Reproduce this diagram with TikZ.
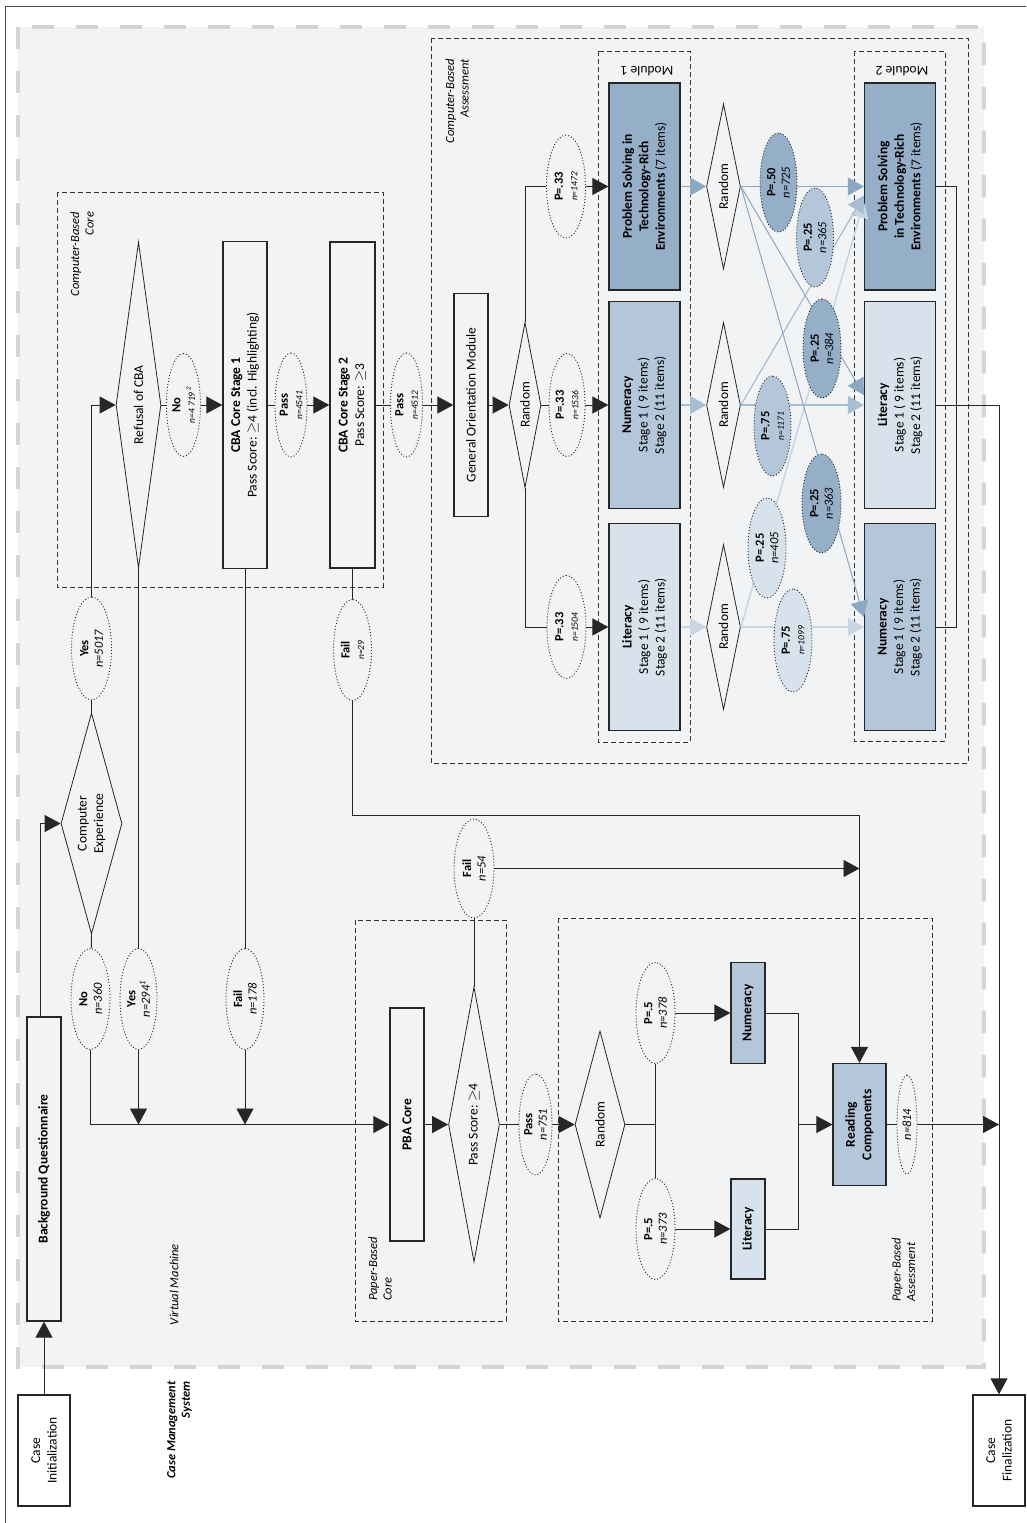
\documentclass[tikz,border=0pt]{standalone}
\usepackage{fontspec}
\setmainfont{Carlito}
\usetikzlibrary{arrows.meta,shapes.geometric}
\definecolor{psfill}{HTML}{95AFC8}
\definecolor{numfill}{HTML}{B4C7DA}
\definecolor{litfill}{HTML}{D7E2EC}
\definecolor{psline}{HTML}{8DA8C3}
\definecolor{numline}{HTML}{A7BDD2}
\definecolor{litline}{HTML}{C8D6E3}
\definecolor{vmgray}{HTML}{F2F3F5}
\definecolor{vmdash}{HTML}{D4D4D6}
\newcommand{\ptag}[2]{\textbf{#1}\\\textit{#2}}
\newcommand{\ptagsmall}[2]{\textbf{#1}\\{\fontsize{9.5}{11}\selectfont\itshape #2}}
\begin{document}
\begin{tikzpicture}[x=1pt,y=-1pt,
  font=\fontsize{13.5}{16.5}\selectfont,
  box/.style={draw=black!85,line width=1.3pt,rotate=90,align=center,inner sep=2pt},
  mod/.style={box,minimum width=207pt,minimum height=71pt},
  choice/.style={diamond,draw=black!85,line width=0.8pt,rotate=90,align=center,inner sep=0pt},
  tag/.style={ellipse,draw=black!85,line width=0.9pt,dash pattern=on 1pt off 2pt,rotate=90,align=center,
    inner sep=0pt,minimum width=101pt,minimum height=38pt,font=\fontsize{12.5}{14.5}\selectfont},
  midtag/.style={tag,minimum width=99pt,minimum height=37pt},
  flow/.style={draw=black!85,line width=0.9pt},
  go/.style={flow,-{Triangle[length=16pt,width=17pt]}},
  psgo/.style={draw=psline,line width=1pt,-{Triangle[length=16pt,width=18pt]}},
  numgo/.style={draw=numline,line width=1.2pt,-{Triangle[length=16pt,width=18pt]}},
  litgo/.style={draw=litline,line width=1.6pt,-{Triangle[length=16pt,width=18pt]}},
  region/.style={draw=black!80,line width=0.8pt,dash pattern=on 5pt off 3pt},
  vm/.style={fill=vmgray,draw=vmdash,line width=4pt,dash pattern=on 22pt off 22pt},
  caption/.style={rotate=90,font=\fontsize{12.5}{14.5}\selectfont\itshape}]
\useasboundingbox (0,0) rectangle (1026,1523);
\clip (0,0) rectangle (1026,1523);
\draw[black!70,line width=0.8pt] (5,6) rectangle (1040,1540);
\draw[vm] (18,27) rectangle (984,1367);
\draw[region] (57,192) rectangle (383,587);
\draw[region] (431,38) rectangle (968,763);
\draw[region] (598,51) rectangle (690,742);
\draw[region] (854,51) rectangle (945,741);
\draw[region] (355,920) rectangle (506,1321);
\draw[region] (558,918) rectangle (932,1321);
\node[caption,align=right] (cbcorelbl) at (82,254) {Computer-Based\\Core};
\node[caption,align=right] (cbalbl) at (457,101) {Computer-Based\\Assessment};
\node[caption,align=left] (pbcorelbl) at (380,1269) {Paper-Based\\Core};
\node[caption,align=left] (pbalbl) at (903.5,1270) {Paper-Based\\Assessment};
\node[caption] (vmlbl) at (174,1284.5) {Virtual Machine};
\node[caption,align=right,font=\fontsize{12.5}{14.5}\selectfont\bfseries\itshape] (cmslbl) at (179.5,1430) {Case Management\\System};
\node[rotate=180] (mod1lbl) at (647,71) {Module 1};
\node[rotate=180] (mod2lbl) at (902,71) {Module 2};
\node[box,minimum width=111pt,minimum height=52pt] (init) at (44,1450.5) {Case\\Initialization};
\node[box,minimum width=304pt,minimum height=34pt] (bq) at (44,1169) {\textbf{Background Questionnaire}};
\node[choice,minimum width=221pt,minimum height=61pt,shape aspect=3.6] (cexp) at (91.5,823.5) {Computer\\Experience};
\node[tag,minimum width=103pt,minimum height=40pt] (yes1) at (91.5,648.5) {\ptag{Yes}{n=5017}};
\node[choice,minimum width=326pt,minimum height=45pt,shape aspect=7.2] (refuse) at (138.5,405) {Refusal of CBA};
\node[tag,minimum width=103pt,minimum height=34pt] (no1) at (183.5,405) {\ptagsmall{No}{n=4 719\,\textsuperscript{2}}};
\node[box,minimum width=327pt,minimum height=44pt] (cba1) at (245,405) {\textbf{CBA Core Stage 1}\\Pass Score: $\geq$4 (incl. Highlighting)};
\node[tag,minimum width=104pt,minimum height=32pt] (pass1) at (291,405) {\ptagsmall{Pass}{n=4541}};
\node[box,minimum width=326pt,minimum height=45pt] (cba2) at (352.5,405) {\textbf{CBA Core Stage 2}\\Pass Score: $\geq$3};
\node[tag,minimum width=104pt,minimum height=31pt] (pass2) at (406.5,405) {\ptagsmall{Pass}{n=4512}};
\node[box,minimum width=223pt,minimum height=34pt] (gom) at (471,405) {General Orientation Module};
\node[choice,minimum width=165pt,minimum height=32pt,shape aspect=5.2] (rnd) at (525,405) {Random};
\node[tag,minimum width=103pt,minimum height=39pt] (p33a) at (566,186.5) {\ptagsmall{P=.33}{n=1472}};
\node[tag,minimum width=103pt,minimum height=36pt] (p33b) at (567,405) {\ptagsmall{P=.33}{n=1536}};
\node[tag,minimum width=103pt,minimum height=39pt] (p33c) at (566.5,627) {\ptagsmall{P=.33}{n=1504}};
\node[mod,fill=psfill] (ps1) at (644.5,186.5) {\textbf{Problem Solving in}\\\textbf{Technology-Rich}\\\textbf{Environments} (7 items)};
\node[mod,fill=numfill] (num1) at (644.5,405) {\textbf{Numeracy}\\Stage 1 ( 9 items)\\Stage 2 (11 items)};
\node[mod,fill=litfill] (lit1) at (644.5,627) {\textbf{Literacy}\\Stage 1 ( 9 items)\\Stage 2 (11 items)};
\foreach \name/\y in {rndA/186.5,rndB/405,rndC/627}
  \node[choice,minimum width=165pt,minimum height=34pt,shape aspect=4.9] (\name) at (723.5,\y) {Random};
\node[mod,fill=psfill] (ps2) at (900,186.5) {\textbf{Problem Solving}\\\textbf{in Technology-Rich}\\\textbf{Environments} (7 items)};
\node[mod,fill=litfill] (lit2) at (900,405) {\textbf{Literacy}\\Stage 1 ( 9 items)\\Stage 2 (11 items)};
\node[mod,fill=numfill] (num2) at (900,627) {\textbf{Numeracy}\\Stage 1 ( 9 items)\\Stage 2 (11 items)};
\node[tag,minimum height=39pt] (no2) at (90.5,999) {\ptag{No}{n=360}};
\node[tag,minimum height=37pt] (yes2) at (138.5,999) {\ptag{Yes}{n=294\textsuperscript{1}}};
\node[tag,minimum height=38pt] (fail1) at (245,999) {\ptag{Fail}{n=178}};
\node[tag,minimum height=38pt] (fail2) at (352.5,650) {\ptagsmall{Fail}{n=29}};
\node[tag,minimum width=99pt,minimum height=40pt] (fail3) at (474,868.5) {\ptag{Fail}{n=54}};
\node[box,minimum width=233pt,minimum height=34pt] (pba) at (407,1124.5) {\textbf{PBA Core}};
\node[choice,minimum width=275pt,minimum height=51pt,shape aspect=5.4] (pass) at (474,1124.5) {Pass Score: $\geq$4};
\node[tag,minimum height=33pt] (pass3) at (535.5,1124.5) {\ptag{Pass}{n=751}};
\node[choice,minimum width=187pt,minimum height=50pt,shape aspect=3.7] (rnd2) at (600,1124.5) {Random};
\node[tag,minimum height=39pt] (p378) at (655.5,1013) {\ptag{P=.5}{n=378}};
\node[tag,minimum height=39pt] (p373) at (655.5,1229) {\ptag{P=.5}{n=373}};
\node[box,fill=numfill,minimum width=101pt,minimum height=34pt] (nump) at (748,1013) {\textbf{Numeracy}};
\node[box,fill=litfill,minimum width=100pt,minimum height=34pt] (litp) at (748,1229) {\textbf{Literacy}};
\node[box,fill=numfill,minimum width=122pt,minimum height=53pt] (rc) at (859.5,1124.5) {\textbf{Reading}\\\textbf{Components}};
\node[tag,minimum width=99pt,minimum height=20pt] (n814) at (907,1124.5) {\itshape n=814};
\node[box,minimum width=111pt,minimum height=52pt] (fin) at (999,1450.5) {Case\\Finalization};
\coordinate (merge) at (798,1124.5);
\draw[go] (init) -- (bq);
\draw[go] ([xshift=-4pt]bq.east) |- (cexp.north);
\draw[flow] (cexp.east) -- (yes1);
\draw[go] (yes1) |- (refuse.north);
\draw[flow] (refuse.south) -- (no1);
\draw[go] (no1) -- (cba1);
\draw[flow] (cba1) -- (pass1);
\draw[go] (pass1) -- (cba2);
\draw[flow] (cba2) -- (pass2);
\draw[go] (pass2) -- (gom);
\draw[go] (gom) -- (rnd);
\draw[flow] (rnd.east) |- (p33a);
\draw[go] (p33a) -- (ps1);
\draw[flow] (rnd) -- (p33b);
\draw[go] (p33b) -- (num1);
\draw[flow] (rnd.west) |- (p33c);
\draw[go] (p33c) -- (lit1);
\draw[psgo] (ps1) -- (rndA);
\draw[numgo] (num1) -- (rndB);
\draw[litgo] (lit1) -- (rndC);
\draw[litgo] (rndC.south) -- ([yshift=-15pt]ps2.north);
\draw[litgo] (rndC.south) -- (num2.north);
\draw[numgo] (rndB.south) -- ([yshift=-9pt]ps2.north);
\draw[numgo] (rndB.south) -- (lit2.north);
\draw[psgo] (rndA.south) -- (ps2.north);
\draw[psgo] (rndA.south) -- ([yshift=10pt]lit2.north);
\draw[psgo] (rndA.south) -- ([yshift=10pt]num2.north);
\node[midtag,fill=psfill] (t725) at (778.5,182.5) {\ptag{P=.50}{n=725}};
\node[midtag,fill=numfill] (t365) at (815,237.5) {\ptag{P=.25}{n=365}};
\node[midtag,fill=psfill,minimum height=38pt] (t384) at (822,348.5) {\ptag{P=.25}{n=384}};
\node[midtag,fill=numfill,minimum width=100pt] (t1171) at (772.5,426) {\ptagsmall{P=.75}{n=1171}};
\node[midtag,fill=psfill,minimum height=39pt] (t363) at (821.5,503.5) {\ptag{P=.25}{n=363}};
\node[midtag,fill=litfill,minimum width=100pt,minimum height=38pt] (t405) at (767,548) {\ptag{P=.25}{n=405}};
\node[midtag,fill=litfill,minimum width=103pt,minimum height=38pt] (t1099) at (793,640.5) {\ptagsmall{P=.75}{n=1099}};
\draw[flow] (ps2.south) -- ++(20,0) |- (num2.south);
\draw[go] (lit2.south) -| (fin.east);
\draw[flow] (cexp.west) -- (no2);
\draw[go] (no2) |- (pba.north);
\draw[flow] (refuse.west) -- (yes2);
\draw[go] (yes2) -- (yes2 |- pba.north);
\draw[flow] (cba1.west) -- (fail1);
\draw[go] (fail1) -- (fail1 |- pba.north);
\draw[flow] (cba2.west) -- (fail2);
\draw[go] (fail2) -- ++(0,165) -| (rc.east);
\draw[go] (pba) -- (pass);
\draw[flow] (pass.east) -- (fail3);
\draw[go] (fail3) -- (fail3 -| rc.east);
\draw[flow] (pass) -- (pass3);
\draw[go] (pass3) -- (rnd2);
\draw[flow] (rnd2.south) -| (p378);
\draw[flow] (rnd2.south) -| (p373);
\draw[go] (p378) -- (nump);
\draw[go] (p373) -- (litp);
\draw[flow] (nump) -| (merge) |- (litp);
\draw[go] (merge) -- (rc);
\draw[flow] (rc) -- (n814);
\draw[go] (n814) -- (n814 -| fin);
\end{tikzpicture}
\end{document}
